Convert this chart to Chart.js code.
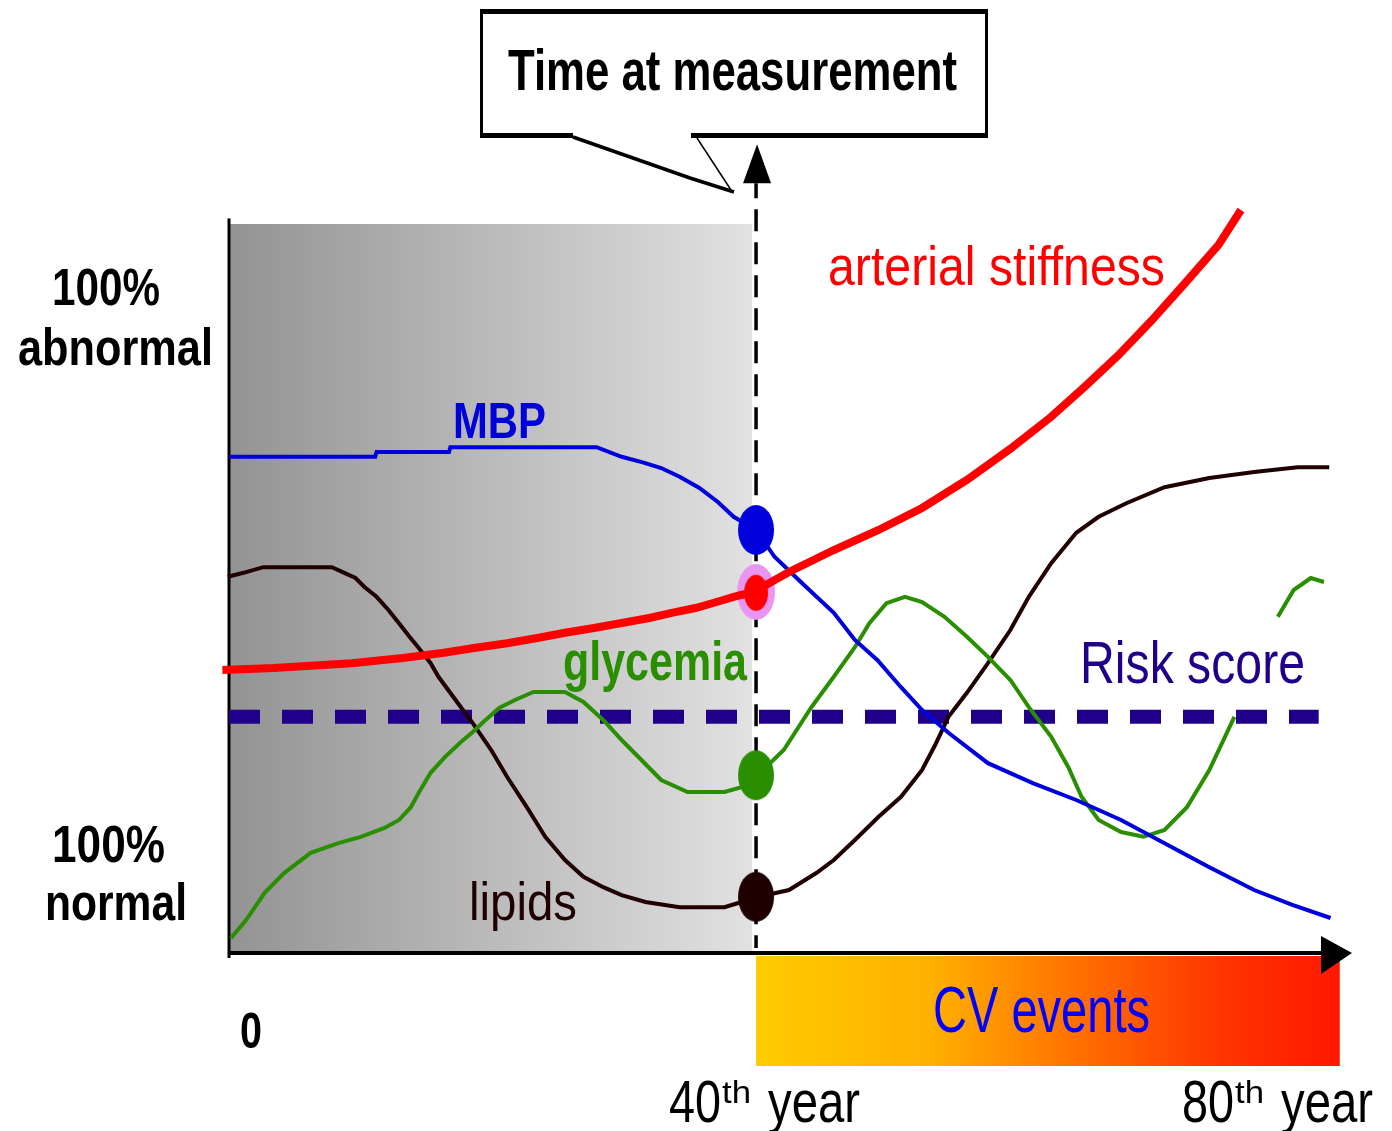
<!DOCTYPE html>
<html lang="en">
<head>
    <meta charset="UTF-8">
    <title>Time at measurement</title>
    <script src="https://cdn.jsdelivr.net/npm/chart.js"></script>
    <style>
        body { margin: 0; background: #fff; }
        #chartContainer { width: 1392px; height: 1131px; }
    </style>
</head>
<body>

    <div id="chartContainer">
        <canvas id="myChart"></canvas>
    </div>

    <script>
        // x = age in years, y = level (0 = 100% normal, ~80 = 100% abnormal)
        const xTicks = [0, 40, 80];

        const mbpYears = [0, 11.1, 11.2, 16.7, 16.8, 27.9, 29.8, 31.4, 32.8, 34.2, 35.7, 37.1, 38.3, 40, 41.4, 43.5, 45.9, 47.5, 49.2, 51.0, 52.6, 54.6, 57.6, 61.0, 64.3, 67.7, 71.0, 74.4, 77.8, 80.7, 83.6];
        const mbpLevels = [61.9, 61.9, 62.5, 62.5, 63.1, 63.1, 61.9, 61.2, 60.5, 59.4, 58.0, 56.25, 54.4, 52.75, 49.4, 46.1, 42.4, 39.0, 36.5, 33.1, 30.25, 27.4, 23.6, 21.1, 19.0, 16.5, 13.6, 10.6, 7.75, 5.9, 4.25];

        const stiffYears = [-0.5, 3.4, 9.3, 13.2, 16.3, 18.6, 21.1, 23.4, 25.5, 27.7, 29.7, 31.9, 33.6, 35.4, 37.0, 38.3, 39.8, 42.5, 45.9, 49.3, 52.6, 56.0, 59.3, 62.4, 64.9, 67.5, 70.0, 72.5, 75.1, 76.8];
        const stiffLevels = [35.25, 35.5, 36.1, 36.75, 37.4, 38.0, 38.6, 39.25, 39.9, 40.5, 41.1, 41.75, 42.4, 43.0, 43.75, 44.4, 45.0, 47.5, 50.25, 52.75, 55.5, 59.0, 62.9, 66.9, 70.6, 74.6, 78.9, 83.5, 88.4, 92.75];

        const glyYears = [0.15, 1.3, 2.7, 4.2, 6.2, 8.3, 10.0, 11.8, 12.9, 13.8, 14.4, 15.3, 16.4, 17.6, 18.5, 19.3, 20.5, 21.7, 23.1, 25.5, 26.9, 28.4, 29.8, 31.3, 32.8, 34.8, 37.6, 38.9, 40.0, 42.1, 44.2, 45.9, 47.5, 48.6, 49.9, 51.3, 52.6, 54.3, 56.0, 57.6, 59.3, 60.7, 62.4, 63.7, 64.7, 66.0, 67.7, 69.4, 71.0, 72.7, 74.4, 76.3, 78.0, 79.6, 80.8, 82.1, 83.1];
        const glyLevels = [1.75, 4.0, 7.4, 9.9, 12.4, 13.6, 14.4, 15.5, 16.5, 18.1, 19.9, 22.4, 24.4, 26.25, 27.5, 28.75, 30.5, 31.5, 32.5, 32.5, 31.25, 29.0, 26.5, 24.0, 21.5, 20.0, 20.0, 20.6, 21.9, 25.25, 30.6, 34.4, 38.1, 41.1, 43.6, 44.4, 43.75, 41.9, 39.4, 36.9, 34.0, 30.6, 26.9, 23.1, 19.4, 16.5, 15.0, 14.4, 15.25, 18.1, 22.75, 29.4, null, 41.9, 45.25, 46.75, 46.25];

        const lipidYears = [-0.1, 1.1, 2.6, 7.8, 8.75, 9.6, 10.3, 11.2, 12.1, 12.9, 13.7, 14.4, 15.3, 15.9, 17.6, 18.5, 19.9, 21.1, 22.6, 24.0, 25.5, 26.9, 28.4, 29.8, 31.6, 34.2, 37.6, 38.9, 40.2, 42.5, 44.6, 45.9, 47.5, 49.3, 51.0, 52.6, 53.6, 54.6, 56.0, 57.6, 59.3, 60.7, 62.4, 64.3, 66.0, 68.1, 71.0, 74.4, 77.8, 81.1, 83.5];
        const lipidLevels = [46.9, 47.4, 48.1, 48.1, 47.4, 46.75, 45.6, 44.4, 42.75, 41.1, 39.4, 38.0, 36.1, 34.4, 30.6, 28.6, 25.25, 21.9, 18.1, 14.4, 11.5, 9.4, 8.1, 7.1, 6.25, 5.6, 5.6, 6.25, 6.9, 7.75, 9.9, 11.5, 14.0, 16.9, 19.4, 22.75, 25.9, 29.4, 32.4, 36.1, 40.25, 44.4, 48.6, 52.4, 54.4, 56.1, 58.1, 59.25, 60.0, 60.6, 60.6];

        const riskYears = [0, 82.7];
        const riskLevels = [29.4, 29.4];

        const measureYears = [40, 40];
        const measureLevels = [96.1, 0.5];

        // measured values at the 40th year (MBP, stiffness, glycemia, lipids)
        const dotYears = [40, 40, 40, 40];
        const dotLevels = [52.75, 44.9, 22.1, 6.9];
        const ringLevels = [45];

        function pts(xs, ys) {
            return xs.map((v, i) => ({ x: v, y: ys[i] }));
        }

        // ellipse shaped point style
        function ellipse(color, rx, ry) {
            const c = document.createElement('canvas');
            c.width = rx * 2 + 2;
            c.height = ry * 2 + 2;
            const g = c.getContext('2d');
            g.fillStyle = color;
            g.beginPath();
            g.ellipse(rx + 1, ry + 1, rx, ry, 0, 0, Math.PI * 2);
            g.fill();
            return c;
        }

        function label(ctx, text, x, y, width, size, weight, color) {
            ctx.save();
            ctx.font = weight + ' ' + size + 'px "Liberation Sans", Arial, sans-serif';
            ctx.fillStyle = color;
            ctx.textAlign = 'left';
            ctx.textBaseline = 'alphabetic';
            const w = ctx.measureText(text).width;
            ctx.translate(x, y);
            ctx.scale(width / w, 1);
            ctx.fillText(text, 0, 0);
            ctx.restore();
        }

        const diagram = {
            id: 'diagram',
            beforeDatasetsDraw(chart) {
                const { ctx, scales: { x, y } } = chart;
                const x0 = x.getPixelForValue(0);
                const x40 = x.getPixelForValue(40);
                const yb = y.getPixelForValue(0);

                // gray period before the measurement
                const top = y.getPixelForValue(91);
                const gray = ctx.createLinearGradient(x0, 0, x40, 0);
                gray.addColorStop(0, '#939393');
                gray.addColorStop(1, '#e2e2e2');
                ctx.fillStyle = gray;
                ctx.fillRect(x0, top, x40 - 4 - x0, yb - top);

                // CV events band
                const xe = x.getPixelForValue(84.3);
                const cv = ctx.createLinearGradient(x40, 0, xe, 0);
                cv.addColorStop(0, '#ffcc00');
                cv.addColorStop(0.3, '#ffb000');
                cv.addColorStop(0.55, '#ff7000');
                cv.addColorStop(0.8, '#ff3400');
                cv.addColorStop(1, '#ff1800');
                ctx.fillStyle = cv;
                ctx.fillRect(x40, yb + 4, xe - x40, 110);

                // axes
                ctx.fillStyle = '#000';
                const ya = y.getPixelForValue(91.7);
                ctx.fillRect(x0 - 1.5, ya, 3, yb + 6 - ya);
                ctx.fillRect(x0, yb - 1, 1325 - x0, 4);
                ctx.beginPath();
                ctx.moveTo(1321, yb - 16);
                ctx.lineTo(1352, yb + 1);
                ctx.lineTo(1321, yb + 22);
                ctx.closePath();
                ctx.fill();
            },
            afterDatasetsDraw(chart) {
                const { ctx, scales: { x, y } } = chart;
                const x40 = x.getPixelForValue(40);
                const yTop = y.getPixelForValue(96.1);

                // arrow on top of the measurement line
                ctx.fillStyle = '#000';
                ctx.beginPath();
                ctx.moveTo(x40 + 1, yTop - 39);
                ctx.lineTo(x40 + 15, yTop);
                ctx.lineTo(x40 - 13, yTop);
                ctx.closePath();
                ctx.fill();

                // callout box
                ctx.fillRect(480, 9, 508, 5);
                ctx.fillRect(480, 133, 93, 5);
                ctx.fillRect(691, 133, 297, 5);
                ctx.fillRect(480, 9, 3, 129);
                ctx.fillRect(985, 9, 3, 129);
                ctx.strokeStyle = '#000';
                ctx.lineWidth = 3.5;
                ctx.beginPath();
                ctx.moveTo(573, 137);
                ctx.lineTo(690, 178);
                ctx.lineTo(734, 192);
                ctx.stroke();
                ctx.lineWidth = 1.5;
                ctx.beginPath();
                ctx.moveTo(697, 138);
                ctx.lineTo(731, 190);
                ctx.stroke();

                label(ctx, 'Time at measurement', 508, 90, 449, 57, 'bold', '#000');
                label(ctx, 'arterial stiffness', 828, 285, 337, 55, 'normal', '#ff0000');
                label(ctx, '100%', 52, 305, 108, 52, 'bold', '#000');
                label(ctx, 'abnormal', 18, 365, 195, 52, 'bold', '#000');
                label(ctx, '100%', 52, 862, 113, 52, 'bold', '#000');
                label(ctx, 'normal', 45, 920, 142, 52, 'bold', '#000');
                label(ctx, 'MBP', 453, 438, 93, 50, 'bold', '#0000dd');
                label(ctx, 'glycemia', 563, 680, 184, 55, 'bold', '#2a8f00');
                label(ctx, 'Risk score', 1080, 683, 225, 60, 'normal', '#20008a');
                label(ctx, 'lipids', 469, 920, 108, 53, 'normal', '#200000');
                label(ctx, 'CV events', 933, 1032, 217, 64, 'normal', '#0000ff');

                // x tick labels
                const yl = y.getPixelForValue(0) + 170;
                xTicks.forEach((v) => {
                    const px = x.getPixelForValue(v);
                    if (v === 0) {
                        label(ctx, '0', px + 11, yl - 74, 22, 50, 'bold', '#000');
                    } else {
                        const sx = px - (v === 40 ? 87 : 101);
                        label(ctx, String(v), sx, yl, 52, 60, 'normal', '#000');
                        label(ctx, 'th', sx + 53, yl - 19, 29, 32, 'normal', '#000');
                        label(ctx, 'year', sx + 99, yl, 92, 60, 'normal', '#000');
                    }
                });
            }
        };

        const ctx = document.getElementById('myChart').getContext('2d');
        const myChart = new Chart(ctx, {
            type: 'line',
            data: {
                datasets: [
                    {
                        label: 'measured',
                        data: pts(dotYears, dotLevels),
                        showLine: false,
                        pointStyle: [ellipse('#0000dd', 18, 25), ellipse('#ff0000', 12, 18), ellipse('#2a8f00', 18, 25), ellipse('#200000', 18, 25)],
                        pointRadius: 20,
                        order: 1
                    },
                    {
                        label: 'MBP',
                        data: pts(mbpYears, mbpLevels),
                        borderColor: '#0000dd',
                        borderWidth: 4,
                        order: 3
                    },
                    {
                        label: 'arterial stiffness',
                        data: pts(stiffYears, stiffLevels),
                        borderColor: '#ff0000',
                        borderWidth: 8,
                        order: 2
                    },
                    {
                        label: 'glycemia',
                        data: pts(glyYears, glyLevels),
                        borderColor: '#2a8f00',
                        borderWidth: 4,
                        spanGaps: false,
                        order: 4
                    },
                    {
                        label: 'lipids',
                        data: pts(lipidYears, lipidLevels),
                        borderColor: '#200000',
                        borderWidth: 4,
                        order: 4
                    },
                    {
                        label: 'ring',
                        data: pts([40], ringLevels),
                        showLine: false,
                        pointStyle: ellipse('#ea96f0', 19, 28),
                        pointRadius: 20,
                        order: 6
                    },
                    {
                        label: 'Risk score',
                        data: pts(riskYears, riskLevels),
                        borderColor: '#20008a',
                        borderWidth: 14,
                        borderDash: [31, 22],
                        borderCapStyle: 'butt',
                        order: 7
                    },
                    {
                        label: 'measurement',
                        data: pts(measureYears, measureLevels),
                        borderColor: '#000',
                        borderWidth: 3.5,
                        borderDash: [22, 11],
                        borderDashOffset: 7,
                        order: 8
                    }
                ]
            },
            options: {
                responsive: true,
                maintainAspectRatio: false,
                animation: false,
                events: [],
                layout: { padding: { left: 229, right: 43, top: 152, bottom: 179 } },
                elements: {
                    line: { tension: 0, fill: false },
                    point: { radius: 0, hoverRadius: 0 }
                },
                datasets: { line: { clip: false } },
                scales: {
                    x: { type: 'linear', min: 0, max: 85, display: false },
                    y: { min: 0, max: 100, display: false }
                },
                plugins: {
                    legend: { display: false },
                    tooltip: { enabled: false }
                }
            },
            plugins: [diagram]
        });
    </script>

</body>
</html>
